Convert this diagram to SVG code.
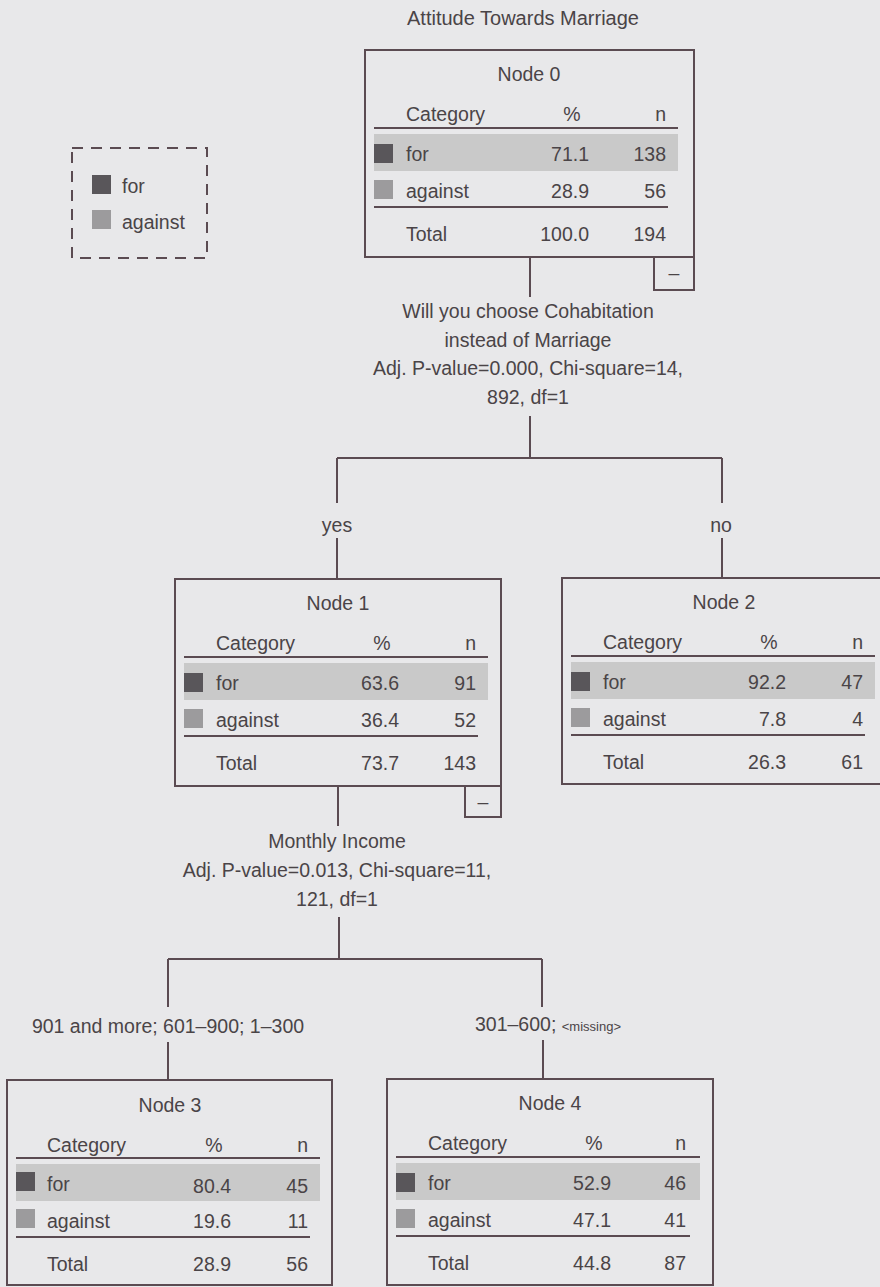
<svg xmlns="http://www.w3.org/2000/svg" width="880" height="1287" viewBox="0 0 880 1287">
<style>
text{font-family:"Liberation Sans",Arial,sans-serif;font-size:19.5px;fill:#4a4447}
.m{text-anchor:middle}
.e{text-anchor:end}
.box{fill:none;stroke:#5b4b52;stroke-width:2}
.ln{stroke:#5b4b52;stroke-width:2;fill:none}
.band{fill:#c9c9c9}
.dk{fill:#59565a}
.lt{fill:#9c9b9d}
.sm{font-size:13px}
</style>
<rect x="0" y="0" width="880" height="1287" fill="#e8e8ea"/>
<text class="m" x="523" y="25" style="font-size:20px">Attitude Towards Marriage</text>
<g id="legend">
<rect x="72" y="148" width="135" height="110" fill="none" stroke="#5b4b52" stroke-width="2" stroke-dasharray="11 8"/>
<rect class="dk" x="92" y="175" width="19" height="19"/>
<text x="122" y="193">for</text>
<rect class="lt" x="92" y="210" width="19" height="19"/>
<text x="122" y="229">against</text>
</g>
<g id="connectors">
<path class="ln" d="M530,257V297M530,416V458M337,458H722M337,458V503M722,458V503M337,538V579M722,538V578"/>
<path class="ln" d="M338,786V826M339,917V959M168,959H542M168,959V1007M542,959V1007M168,1042V1080M543,1040V1079"/>
<text class="m" x="337" y="532">yes</text>
<text class="m" x="721" y="532">no</text>
<text class="m" x="168" y="1033">901 and more; 601–900; 1–300</text>
<text class="m" x="548" y="1031">301–600; <tspan class="sm">&lt;missing&gt;</tspan></text>
</g>
<g id="node0">
<rect class="box" x="365" y="50" width="329" height="207"/>
<text class="m" x="529" y="81">Node 0</text>
<text x="406" y="121">Category</text><text class="m" x="572" y="121">%</text><text class="e" x="666" y="121">n</text>
<path class="ln" d="M374,128H678"/>
<rect class="band" x="374" y="134" width="304" height="37"/>
<rect class="dk" x="374" y="144" width="19" height="19"/>
<text x="406" y="161">for</text><text class="e" x="589" y="161">71.1</text><text class="e" x="666" y="161">138</text>
<rect class="lt" x="374" y="180" width="19" height="19"/>
<text x="406" y="198">against</text><text class="e" x="589" y="198">28.9</text><text class="e" x="666" y="198">56</text>
<path class="ln" d="M374,207H668"/>
<text x="406" y="241">Total</text><text class="e" x="589" y="241">100.0</text><text class="e" x="666" y="241">194</text>
<rect class="box" x="654" y="257" width="40" height="33"/>
<text class="m" x="674" y="280">–</text>
</g>
<g id="split0">
<text class="m" x="528" y="318">Will you choose Cohabitation</text>
<text class="m" x="528" y="347">instead of Marriage</text>
<text class="m" x="528" y="375">Adj. P-value=0.000, Chi-square=14,</text>
<text class="m" x="528" y="404">892, df=1</text>
</g>
<g id="node1">
<rect class="box" x="175" y="579" width="326" height="207"/>
<text class="m" x="338" y="610">Node 1</text>
<text x="216" y="650">Category</text><text class="m" x="382" y="650">%</text><text class="e" x="476" y="650">n</text>
<path class="ln" d="M184,657H488"/>
<rect class="band" x="184" y="663" width="304" height="37"/>
<rect class="dk" x="184" y="673" width="19" height="19"/>
<text x="216" y="690">for</text><text class="e" x="399" y="690">63.6</text><text class="e" x="476" y="690">91</text>
<rect class="lt" x="184" y="709" width="19" height="19"/>
<text x="216" y="727">against</text><text class="e" x="399" y="727">36.4</text><text class="e" x="476" y="727">52</text>
<path class="ln" d="M184,736H478"/>
<text x="216" y="770">Total</text><text class="e" x="399" y="770">73.7</text><text class="e" x="476" y="770">143</text>
<rect class="box" x="465" y="786" width="36" height="31"/>
<text class="m" x="483" y="809">–</text>
</g>
<g id="node2">
<path class="box" d="M880,578H562V784H880"/>
<text class="m" x="724" y="609">Node 2</text>
<text x="603" y="649">Category</text><text class="m" x="769" y="649">%</text><text class="e" x="863" y="649">n</text>
<path class="ln" d="M571,656H875"/>
<rect class="band" x="571" y="662" width="304" height="37"/>
<rect class="dk" x="571" y="672" width="19" height="19"/>
<text x="603" y="689">for</text><text class="e" x="786" y="689">92.2</text><text class="e" x="863" y="689">47</text>
<rect class="lt" x="571" y="708" width="19" height="19"/>
<text x="603" y="726">against</text><text class="e" x="786" y="726">7.8</text><text class="e" x="863" y="726">4</text>
<path class="ln" d="M571,735H865"/>
<text x="603" y="769">Total</text><text class="e" x="786" y="769">26.3</text><text class="e" x="863" y="769">61</text>
</g>
<g id="split1">
<text class="m" x="337" y="848">Monthly Income</text>
<text class="m" x="337" y="877">Adj. P-value=0.013, Chi-square=11,</text>
<text class="m" x="337" y="906">121, df=1</text>
</g>
<g id="node3">
<rect class="box" x="7" y="1080" width="325" height="205"/>
<text class="m" x="170" y="1112">Node 3</text>
<text x="47" y="1152">Category</text><text class="m" x="214" y="1152">%</text><text class="e" x="308" y="1152">n</text>
<path class="ln" d="M16,1158H320"/>
<rect class="band" x="16" y="1164" width="304" height="37"/>
<rect class="dk" x="16" y="1172" width="19" height="19"/>
<text x="47" y="1191">for</text><text class="e" x="231" y="1193">80.4</text><text class="e" x="308" y="1193">45</text>
<rect class="lt" x="16" y="1209" width="19" height="19"/>
<text x="47" y="1228">against</text><text class="e" x="231" y="1228">19.6</text><text class="e" x="308" y="1228">11</text>
<path class="ln" d="M16,1237H310"/>
<text x="47" y="1271">Total</text><text class="e" x="231" y="1271">28.9</text><text class="e" x="308" y="1271">56</text>
</g>
<g id="node4">
<rect class="box" x="387" y="1079" width="326" height="206"/>
<text class="m" x="550" y="1110">Node 4</text>
<text x="428" y="1150">Category</text><text class="m" x="594" y="1150">%</text><text class="e" x="686" y="1150">n</text>
<path class="ln" d="M396,1157H700"/>
<rect class="band" x="396" y="1163" width="304" height="37"/>
<rect class="dk" x="396" y="1173" width="19" height="19"/>
<text x="428" y="1190">for</text><text class="e" x="611" y="1190">52.9</text><text class="e" x="686" y="1190">46</text>
<rect class="lt" x="396" y="1209" width="19" height="19"/>
<text x="428" y="1227">against</text><text class="e" x="611" y="1227">47.1</text><text class="e" x="686" y="1227">41</text>
<path class="ln" d="M396,1236H690"/>
<text x="428" y="1270">Total</text><text class="e" x="611" y="1270">44.8</text><text class="e" x="686" y="1270">87</text>
</g>
</svg>
